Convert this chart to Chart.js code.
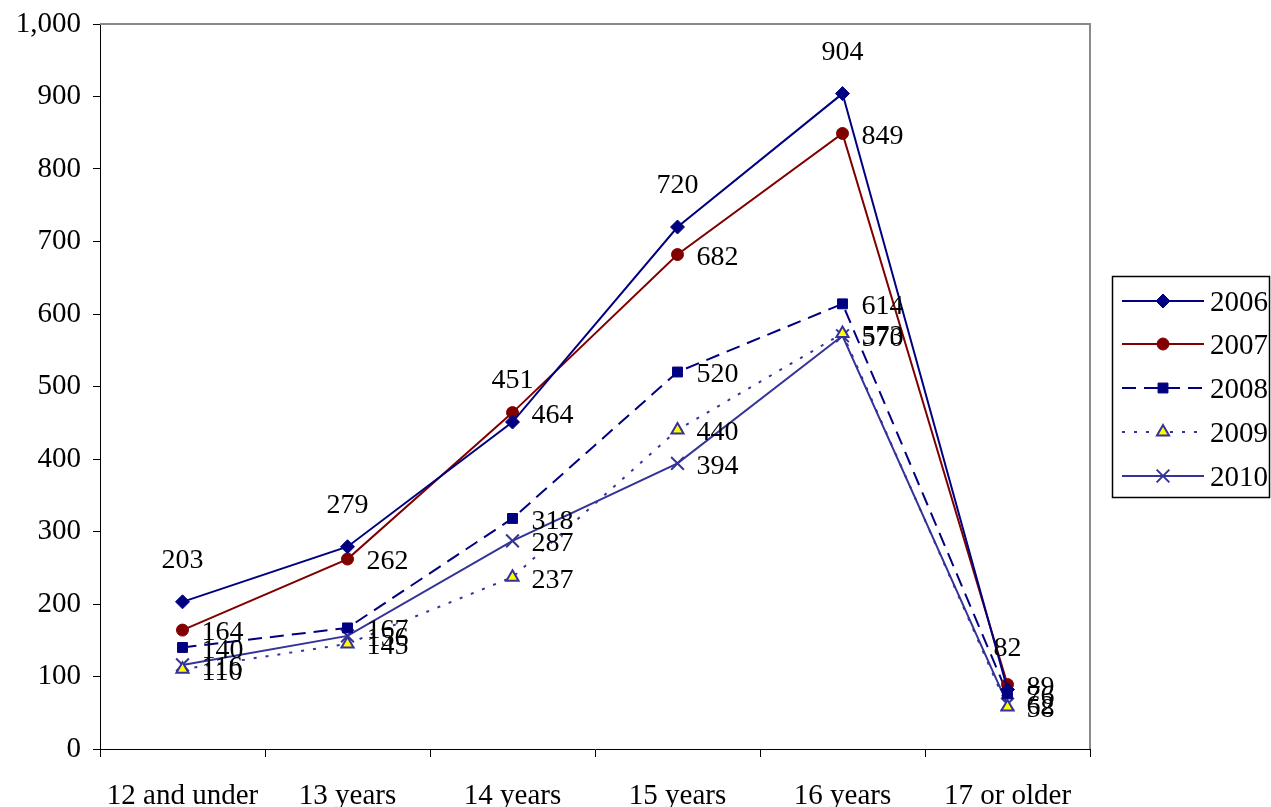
<!DOCTYPE html>
<html><head><meta charset="utf-8">
<script src="https://cdn.jsdelivr.net/npm/chart.js@4"></script>
<style>html,body{margin:0;padding:0;background:#fff}#wrap{width:1271px;height:807px}</style>
</head><body><div id="wrap"><canvas id="c" width="1271" height="807"></canvas></div>
<script>
const categories = ["12 and under","13 years","14 years","15 years","16 years","17 or older"];
const yTicks = [0,100,200,300,400,500,600,700,800,900,1000];
const s2006 = [203,279,451,720,904,82];
const s2007 = [164,262,464,682,849,89];
const s2008 = [140,167,318,520,614,76];
const s2009 = [110,145,237,440,573,58];
const s2010 = [116,156,287,394,570,62];
const seriesNames = ["2006","2007","2008","2009","2010"];

const FONT = "'Liberation Serif','Times New Roman',serif";
const FS = 29;
const FSL = 28;

const datasets = [
  {label:seriesNames[0],data:s2006,borderColor:'#000080',backgroundColor:'#000080',pointStyle:'rectRot',pointRadius:7,borderWidth:2,pointBorderWidth:1,labelPos:'above'},
  {label:seriesNames[1],data:s2007,borderColor:'#800000',backgroundColor:'#800000',pointStyle:'circle',pointRadius:6,borderWidth:2,pointBorderWidth:1,labelPos:'right'},
  {label:seriesNames[2],data:s2008,borderColor:'#000080',backgroundColor:'#000080',pointStyle:'rect',pointRadius:7,borderWidth:2,borderDash:[14,8],pointBorderWidth:1,labelPos:'right'},
  {label:seriesNames[3],data:s2009,borderColor:'#333399',backgroundColor:'#ffff00',pointStyle:'triangle',pointRadius:7,borderWidth:2,borderDash:[3,9],pointBorderWidth:2,pointBorderColor:'#333399',labelPos:'right'},
  {label:seriesNames[4],data:s2010,borderColor:'#333399',backgroundColor:'#333399',pointStyle:'crossRot',pointRadius:9,borderWidth:2,pointBorderWidth:2,labelPos:'right'}
];
datasets.forEach(d=>{d.tension=0;d.fill=false;d.pointHoverRadius=d.pointRadius;});

const labelPlugin = {
  id:'dl',
  afterDatasetsDraw(chart){
    const ctx = chart.ctx;
    ctx.save();
    ctx.font = FSL+'px '+FONT;
    ctx.fillStyle = '#000';
    chart.data.datasets.forEach((ds,i)=>{
      const meta = chart.getDatasetMeta(i);
      meta.data.forEach((pt,j)=>{
        const v = ds.data[j];
        if(ds.labelPos==='above'){
          ctx.textAlign='center';ctx.textBaseline='middle';
          ctx.fillText(String(v), pt.x, pt.y-41);
        } else {
          ctx.textAlign='left';ctx.textBaseline='middle';
          ctx.fillText(String(v), pt.x+19, pt.y+3);
        }
      });
    });
    ctx.restore();
  }
};

const framePlugin = {
  id:'frame',
  beforeDatasetsDraw(chart){
    const a = chart.chartArea, ctx = chart.ctx;
    ctx.save();
    ctx.strokeStyle='#8a8a8a';ctx.lineWidth=2;
    ctx.beginPath();
    ctx.moveTo(a.left, a.top);ctx.lineTo(a.right, a.top);ctx.lineTo(a.right, a.bottom);
    ctx.stroke();
    ctx.restore();
  }
};

const legendPlugin = {
  id:'lg',
  afterDraw(chart){
    const ctx = chart.ctx;
    ctx.save();
    ctx.strokeStyle='#000';ctx.lineWidth=1.5;
    ctx.strokeRect(1112.5,276.5,157,221);
    const ys=[301,344,388,432,476];
    chart.data.datasets.forEach((ds,i)=>{
      const y=ys[i];
      ctx.save();
      ctx.strokeStyle=ds.borderColor;ctx.lineWidth=2;
      ctx.setLineDash(ds.borderDash||[]);
      ctx.beginPath();ctx.moveTo(1122,y);ctx.lineTo(1204,y);ctx.stroke();
      ctx.setLineDash([]);
      ctx.fillStyle=ds.backgroundColor;ctx.strokeStyle=ds.pointBorderColor||ds.borderColor;ctx.lineWidth=ds.pointBorderWidth;
      Chart.helpers.drawPoint(ctx,{pointStyle:ds.pointStyle,radius:ds.pointRadius,borderWidth:ds.pointBorderWidth,rotation:0},1163,y);
      ctx.restore();
      ctx.fillStyle='#000';ctx.font=FS+'px '+FONT;ctx.textAlign='left';ctx.textBaseline='middle';
      ctx.fillText(ds.label,1210,y+2);
    });
    ctx.restore();
  }
};

new Chart(document.getElementById('c'),{
  type:'line',
  data:{labels:categories,datasets},
  options:{
    responsive:false,animation:false,
    layout:{padding:{left:0,top:24,right:181,bottom:0}},
    plugins:{legend:{display:false},tooltip:{enabled:false}},
    scales:{
      x:{
        offset:true,
        grid:{offset:true,drawOnChartArea:false,drawTicks:true,tickLength:8,color:'#000',lineWidth:1},
        border:{color:'#000',width:1},
        ticks:{font:{family:FONT,size:FS},color:'#000',padding:22,maxRotation:0,autoSkip:false},
        afterFit(s){s.height=58;s.paddingLeft=0;s.paddingRight=0;}
      },
      y:{
        min:0,max:1000,
        afterBuildTicks(s){s.ticks=yTicks.map(v=>({value:v}));},
        grid:{drawOnChartArea:false,drawTicks:true,tickLength:7,color:'#000'},
        border:{color:'#000',width:1},
        ticks:{font:{family:FONT,size:FS},color:'#000',padding:12,callback:v=>v.toLocaleString('en-US')},
        afterFit(s){s.width=100;s.paddingTop=0;s.paddingBottom=0;}
      }
    }
  },
  plugins:[framePlugin,labelPlugin,legendPlugin]
});
</script></body></html>
